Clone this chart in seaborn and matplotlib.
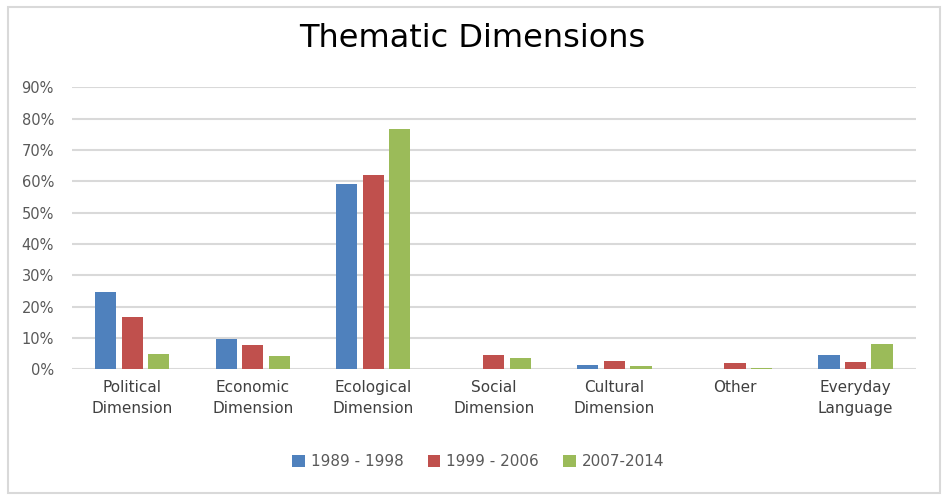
import matplotlib
matplotlib.use("Agg")
import matplotlib.pyplot as plt
from matplotlib.patches import Rectangle
from matplotlib.ticker import PercentFormatter
import pandas as pd
import seaborn as sns

categories = ["Political\nDimension", "Economic\nDimension", "Ecological\nDimension",
              "Social\nDimension", "Cultural\nDimension", "Other", "Everyday\nLanguage"]
periods = ["1989 - 1998", "1999 - 2006", "2007-2014"]
share_1989 = [0.248, 0.095, 0.590, 0.0, 0.014, 0.0, 0.047]
share_1999 = [0.168, 0.077, 0.620, 0.046, 0.027, 0.020, 0.023]
share_2007 = [0.048, 0.042, 0.765, 0.035, 0.010, 0.004, 0.082]
colors = ["#4F81BD", "#C0504D", "#9BBB59"]

rows = []
for period, values in zip(periods, [share_1989, share_1999, share_2007]):
    for cat, v in zip(categories, values):
        rows.append({"Category": cat, "Period": period, "Share": v})
df = pd.DataFrame(rows)

sns.set_theme(style="white")
plt.rcParams["font.family"] = ["DejaVu Sans"]

fig = plt.figure(figsize=(9.47, 5.01), dpi=100)
ax = fig.add_axes([0.076, 0.263, 0.891, 0.563])

sns.barplot(data=df, x="Category", y="Share", hue="Period", order=categories,
            hue_order=periods, palette=colors, width=0.66, gap=0.2,
            saturation=1, linewidth=0, ax=ax, legend=True)

ax.set_ylim(0, 0.9)
ax.set_xlim(-0.5, 6.5)
ax.set_yticks([i / 10 for i in range(10)])
ax.yaxis.set_major_formatter(PercentFormatter(1.0, decimals=0))
ax.grid(axis="y", color="#D9D9D9", linewidth=1.5)
ax.set_axisbelow(True)
for s in ax.spines.values():
    s.set_visible(False)
ax.set_xlabel("")
ax.set_ylabel("")
ax.tick_params(axis="y", length=0, pad=13, labelsize=10.5, labelcolor="#595959")
ax.tick_params(axis="x", length=0, pad=8, labelsize=11, labelcolor="#404040")
for lbl in ax.get_xticklabels():
    lbl.set_linespacing(1.5)

ax.legend_.remove()
handles, labels = ax.get_legend_handles_labels()
fig.legend(handles, labels, loc="center", bbox_to_anchor=(0.505, 0.078), ncol=3,
           frameon=False, fontsize=11, labelcolor="#595959", handlelength=0.8,
           handleheight=0.8, handletextpad=0.4, columnspacing=1.6)

fig.text(0.499, 0.924, "Thematic Dimensions", ha="center", va="center",
         fontsize=23, color="black")

fig.patches.append(Rectangle((7.5 / 947, 8 / 501), 932 / 947, 486 / 501,
                             transform=fig.transFigure, fill=False,
                             edgecolor="#D9D9D9", linewidth=1.5))

fig.savefig("out.png", dpi=100)
